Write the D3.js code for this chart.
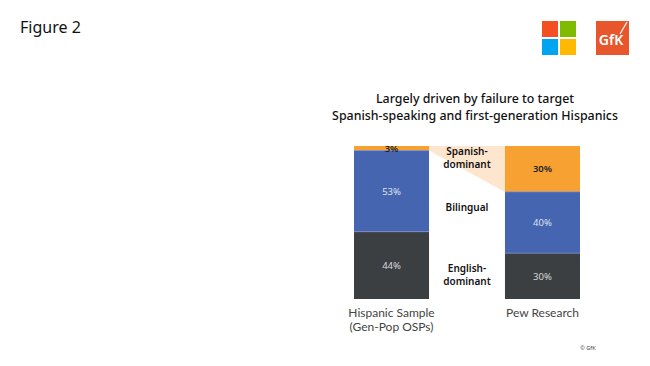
<!DOCTYPE html>
<html><head><meta charset="utf-8">
<script src="https://cdn.jsdelivr.net/npm/d3@7"></script>
<style>body{margin:0;background:#fff}svg{display:block}</style>
</head><body>
<script>
const categories = ["Hispanic Sample|(Gen-Pop OSPs)", "Pew Research"];
const segments = ["English-dominant", "Bilingual", "Spanish-dominant"];
const seriesEnglish = [44, 30];
const seriesBilingual = [53, 40];
const seriesSpanish = [3, 30];
const segmentLabels = ["English-|dominant", "Bilingual", "Spanish-|dominant"];

const W = 650, H = 366;
const svg = d3.select("body").append("svg").attr("width", W).attr("height", H);
const font = "'Noto Sans', 'Open Sans', sans-serif";

svg.append("text").attr("x", 20).attr("y", 33).text("Figure 2")
  .attr("font-family", font).attr("font-size", 16).attr("fill", "#111");

// logos
const ms = [["#f25022",0,0],["#7fba00",1,0],["#00a4ef",0,1],["#ffb900",1,1]];
svg.selectAll("rect.ms").data(ms).join("rect").attr("class","ms")
  .attr("x", d => 542 + d[1]*18).attr("y", d => 21 + d[2]*18)
  .attr("width", 16).attr("height", 16).attr("fill", d => d[0]);
svg.append("rect").attr("x", 596).attr("y", 21).attr("width", 33).attr("height", 34).attr("fill", "#e8572b");
svg.append("text").attr("x", 611).attr("y", 45).attr("text-anchor","middle")
  .attr("font-family", font).attr("font-size", 14).attr("font-weight", 600).attr("fill", "#fff").text("GfK");
svg.append("line").attr("x1", 620).attr("y1", 34).attr("x2", 627).attr("y2", 22)
  .attr("stroke", "#fff").attr("stroke-width", 1.2);

// title
const title = ["Largely driven by failure to target", "Spanish-speaking and first-generation Hispanics"];
svg.selectAll("text.title").data(title).join("text").attr("class","title")
  .attr("x", 475).attr("y", (d,i) => 103 + i*17).attr("text-anchor","middle")
  .attr("font-family", font).attr("font-size", 12.4).attr("font-weight", 500).attr("fill", "#111").text(d => d);

// scales
const x = d3.scaleBand().domain(categories).range([354, 580]).paddingInner(0.503).paddingOuter(0);
const y = d3.scaleLinear().domain([0, 100]).range([299, 146]);

const data = categories.map((c, i) => ({cat: c, "English-dominant": seriesEnglish[i], "Bilingual": seriesBilingual[i], "Spanish-dominant": seriesSpanish[i]}));
const stack = d3.stack().keys(segments)(data);
const colors = {"English-dominant": "#3b3f42", "Bilingual": "#4565b0", "Spanish-dominant": "#f6a131"};
const labelColor = {"English-dominant": "#d8d8d8", "Bilingual": "#dde3f0", "Spanish-dominant": "#222"};

// wedge connecting Spanish-dominant segments
const sp = stack[2];
const wedge = [
  [x(categories[0]) + x.bandwidth(), y(sp[0][1])],
  [x(categories[1]), y(sp[1][1])],
  [x(categories[1]), y(sp[1][0])],
  [x(categories[0]) + x.bandwidth(), y(sp[0][0])]
];
svg.append("path").attr("d", d3.line()(wedge) + "Z").attr("fill", "#fde6cd");

const g = svg.append("g");
stack.forEach(layer => {
  g.selectAll(null).data(layer).join("rect")
    .attr("x", d => x(d.data.cat)).attr("width", x.bandwidth())
    .attr("y", d => y(d[1])).attr("height", d => y(d[0]) - y(d[1]))
    .attr("fill", colors[layer.key]);
});

// separator lines between segments
g.selectAll(null).data(stack[1]).join("line")
  .attr("x1", d => x(d.data.cat)).attr("x2", d => x(d.data.cat) + x.bandwidth())
  .attr("y1", d => y(d[0])).attr("y2", d => y(d[0])).attr("stroke", "#7a8fc8").attr("stroke-width", 0.8);
g.selectAll(null).data(stack[2]).join("line")
  .attr("x1", d => x(d.data.cat)).attr("x2", d => x(d.data.cat) + x.bandwidth())
  .attr("y1", d => y(d[0])).attr("y2", d => y(d[0])).attr("stroke", "#6f8ad0").attr("stroke-width", 0.8);

stack.forEach(layer => {
  g.selectAll(null).data(layer).join("text")
    .attr("x", d => x(d.data.cat) + x.bandwidth()/2)
    .attr("y", d => (y(d[0]) + y(d[1]))/2 + 3.5)
    .attr("text-anchor","middle").attr("font-family", font).attr("font-size", 9.5)
    .attr("font-weight", layer.key === "Spanish-dominant" ? 600 : 400)
    .attr("fill", labelColor[layer.key])
    .text(d => (d[1]-d[0]) + "%");
});

// segment labels between bars
const midX = (x(categories[0]) + x.bandwidth() + x(categories[1])) / 2;
const labelY = [272, 211, 155];
segmentLabels.forEach((lab, i) => {
  const lines = lab.split("|");
  const t = svg.append("text").attr("text-anchor","middle").attr("font-family", font)
    .attr("font-size", 10).attr("font-weight", 600).attr("fill", "#111");
  lines.forEach((l, j) => t.append("tspan").attr("x", midX).attr("y", labelY[i] + j*13).text(l));
});

// category labels
categories.forEach(c => {
  const t = svg.append("text").attr("text-anchor","middle").attr("font-family", "Lato, 'Noto Sans', sans-serif")
    .attr("font-size", 12).attr("fill", "#444");
  c.split("|").forEach((l, j) => t.append("tspan").attr("x", x(c) + x.bandwidth()/2).attr("y", 317 + j*14).text(l));
});

svg.append("text").attr("x", 588).attr("y", 350).attr("text-anchor","middle")
  .attr("font-family", font).attr("font-size", 5.5).attr("fill", "#444").text("© GfK");
</script>
</body></html>
